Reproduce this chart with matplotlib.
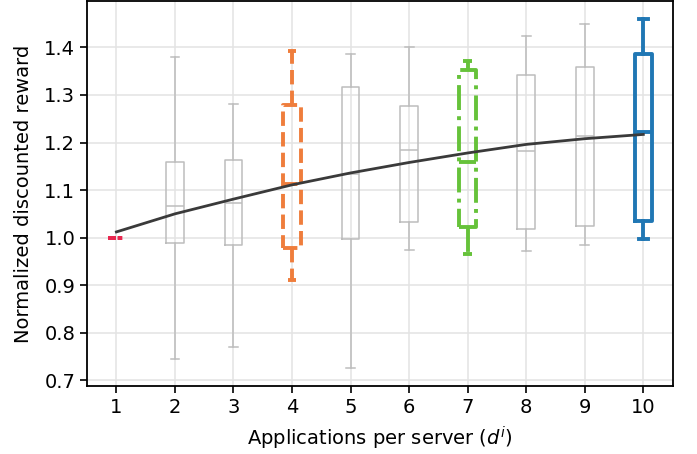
import matplotlib
matplotlib.use("Agg")
import matplotlib.pyplot as plt
import numpy as np

positions = [1, 2, 3, 4, 5, 6, 7, 8, 9, 10]
whisker_low = [1.0, 0.744, 0.771, 0.911, 0.725, 0.973, 0.965, 0.972, 0.985, 0.997]
q1 = [1.0, 0.988, 0.985, 0.979, 0.997, 1.032, 1.023, 1.018, 1.024, 1.036]
median = [1.0, 1.067, 1.073, 1.112, 1.134, 1.185, 1.159, 1.183, 1.213, 1.223]
q3 = [1.0, 1.159, 1.163, 1.278, 1.316, 1.277, 1.352, 1.341, 1.359, 1.387]
whisker_high = [1.0, 1.380, 1.280, 1.392, 1.387, 1.400, 1.372, 1.424, 1.450, 1.460]

trend_x = [1, 2, 3, 4, 5, 6, 7, 8, 9, 10]
trend_y = [1.012, 1.050, 1.081, 1.111, 1.136, 1.158, 1.178, 1.196, 1.208, 1.217]

xticklabels = ["1", "2", "3", "4", "5", "6", "7", "8", "9", "10"]

highlight = {1: ("#e8274f", ":"), 4: ("#ef7d3c", "--"), 7: ("#66c23a", "-."), 10: ("#2077b4", "-")}

plt.rcParams['font.family'] = ['DejaVu Sans']
fig, ax = plt.subplots(figsize=(6.97, 4.54), dpi=100)

stats = []
for i, p in enumerate(positions):
    stats.append(dict(med=median[i], q1=q1[i], q3=q3[i], whislo=whisker_low[i],
                      whishi=whisker_high[i], fliers=[], label=str(p)))

for i, p in enumerate(positions):
    if p in highlight:
        c, ls = highlight[p]
        lw = 2.8
        props = dict(color=c, linewidth=lw, linestyle=ls)
    else:
        props = dict(color="#bdbdbd", linewidth=1.1, linestyle="-")
    ax.bxp([stats[i]], positions=[p], widths=0.3, showfliers=False,
           boxprops=props, whiskerprops=props, capprops=props, medianprops=props,
           manage_ticks=False, zorder=3)

ax.plot(trend_x, trend_y, color="#3a3a3a", linewidth=2, zorder=4)

ax.set_xlim(0.5, 10.5)
ax.set_xticks(positions)
ax.set_xticklabels(xticklabels)
ax.set_yticks([0.7, 0.8, 0.9, 1.0, 1.1, 1.2, 1.3, 1.4])
ax.grid(True, color="#e3e3e3", linewidth=1.1)
ax.set_axisbelow(True)
ax.tick_params(labelsize=14, length=5, width=1.2)
ax.set_xlabel("Applications per server ($d^i$)", fontsize=14, labelpad=6)
ax.set_ylabel("Normalized discounted reward", fontsize=14, labelpad=8)
for s in ax.spines.values():
    s.set_linewidth(1.3)
fig.subplots_adjust(left=0.125, right=0.965, top=0.997, bottom=0.150)
fig.savefig("out.png", dpi=100)
